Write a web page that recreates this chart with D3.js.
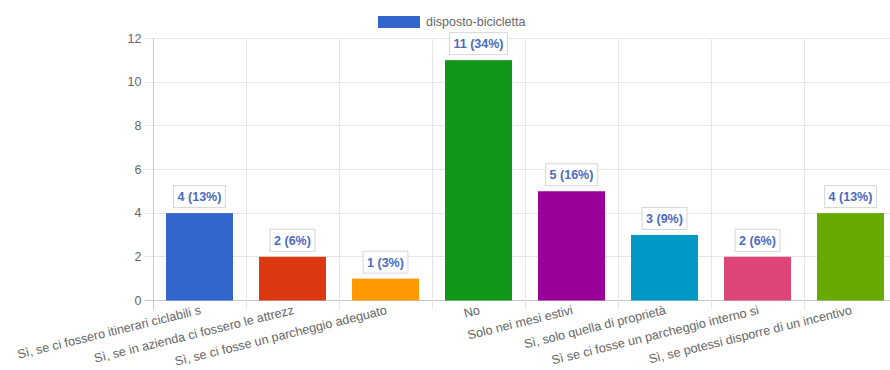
<!DOCTYPE html>
<html><head><meta charset="utf-8">
<script src="https://cdn.jsdelivr.net/npm/d3@7"></script>
<style>
body{margin:0;background:#fff;}
text{font-family:"Liberation Sans",Arial,Helvetica,sans-serif;}
</style></head>
<body><svg id="c" width="890" height="370"></svg>
<script>
const categories = [
  "Sì, se ci fossero itinerari ciclabili s",
  "Sì, se in azienda ci fossero le attrezz",
  "Sì, se ci fosse un parcheggio adeguato",
  "No",
  "Solo nei mesi estivi",
  "Sì, solo quella di proprietà",
  "Sì se ci fosse un parcheggio interno si",
  "Sì, se potessi disporre di un incentivo"
];
const values = [4, 2, 1, 11, 5, 3, 2, 4];
const percents = ["13%", "6%", "3%", "34%", "16%", "9%", "6%", "13%"];
const colors = ["#3366cc", "#dc3912", "#ff9900", "#109618", "#990099", "#0099c6", "#dd4477", "#66aa00"];
const yTicks = [0, 2, 4, 6, 8, 10, 12];
const seriesName = "disposto-bicicletta";

(function () {
const svg = d3.select("#c");
const mLeft = 153, mRight = 897, mTop = 38.3, mBottom = 300.5;
const x = d3.scaleBand().domain(categories).range([mLeft, mRight]).paddingInner(0).paddingOuter(0);
const y = d3.scaleLinear().domain([0, 12]).range([mBottom, mTop]);
const bw = x.bandwidth() * 0.72;

// horizontal grid
svg.append("g").selectAll("line").data(yTicks).join("line")
  .attr("x1", mLeft - 8).attr("x2", mRight).attr("y1", d => y(d)).attr("y2", d => y(d))
  .attr("stroke", d => d === 0 ? "#c8c8c8" : "#e6e6e6").attr("stroke-width", 1)
  .attr("shape-rendering", "crispEdges");
// vertical grid
const bounds = categories.map(c => x(c)).concat([mRight]);
svg.append("g").selectAll("line").data(bounds).join("line")
  .attr("x1", d => d).attr("x2", d => d).attr("y1", mTop).attr("y2", mBottom + 9)
  .attr("stroke", (d, i) => i === 0 ? "#c8c8c8" : "#e6e6e6")
  .attr("shape-rendering", "crispEdges");

// y tick labels
svg.append("g").selectAll("text").data(yTicks).join("text")
  .attr("x", 141.5).attr("y", d => y(d)).attr("dy", "0.35em")
  .attr("text-anchor", "end").attr("font-size", 12.5).attr("fill", "#666")
  .text(d => d);

// bars
svg.append("g").selectAll("rect").data(values).join("rect")
  .attr("x", (d, i) => x(categories[i]) + (x.bandwidth() - bw) / 2)
  .attr("width", bw)
  .attr("y", d => y(d)).attr("height", d => y(0) - y(d))
  .attr("fill", (d, i) => colors[i]);

// data labels
const lg = svg.append("g");
values.forEach((v, i) => {
  const cx = x(categories[i]) + x.bandwidth() / 2;
  const g = lg.append("g");
  const t = g.append("text").attr("x", cx).attr("y", y(v) - 16.5).attr("dy", "0.35em")
    .attr("text-anchor", "middle").attr("font-size", 12.5).attr("font-weight", "bold")
    .attr("fill", "#4a6bc0").text(v + " (" + percents[i] + ")");
  const w = t.node().getComputedTextLength() + 8;
  g.insert("rect", "text").attr("x", cx - w / 2).attr("y", y(v) - 27.5).attr("width", w).attr("height", 22)
    .attr("fill", "#fff").attr("stroke", "#d6d6d6").attr("stroke-width", 1);
});

// x labels
svg.append("g").selectAll("text").data(categories).join("text")
  .attr("transform", d => `translate(${x(d) + x.bandwidth() / 2 + 1},${mBottom + 9}) rotate(-13.8)`)
  .attr("text-anchor", "end").attr("dy", "0.35em")
  .attr("font-size", 12.6).attr("fill", "#666").text(d => d);

// legend
svg.append("rect").attr("x", 378).attr("y", 16).attr("width", 42).attr("height", 12).attr("fill", colors[0]);
svg.append("text").attr("x", 426).attr("y", 22).attr("dy", "0.35em").attr("font-size", 12.5).attr("fill", "#666").text(seriesName);
})();
</script></body></html>
